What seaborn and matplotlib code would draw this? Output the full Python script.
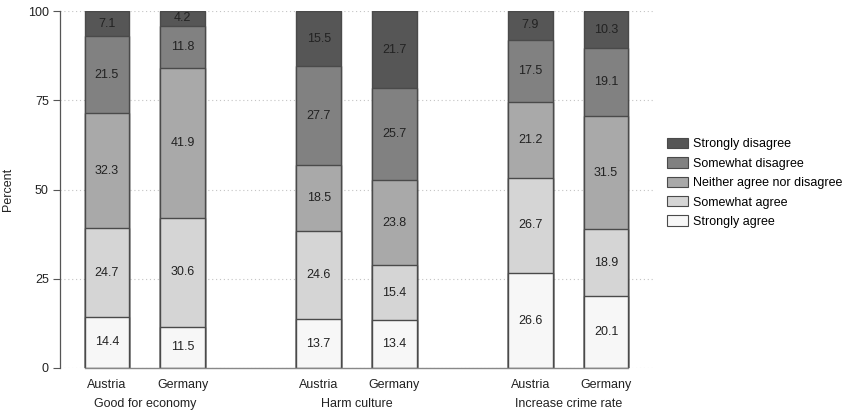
import numpy as np
import pandas as pd
import seaborn as sns
import matplotlib.pyplot as plt
import matplotlib.transforms as mtransforms
from matplotlib.patches import Patch

questions = ['Good for economy', 'Harm culture', 'Increase crime rate']
countries = ['Austria', 'Germany']
levels = ['Strongly agree', 'Somewhat agree', 'Neither agree nor disagree',
          'Somewhat disagree', 'Strongly disagree']

# one list per answer level, ordered: economy AT, DE, culture AT, DE, crime AT, DE
strongly_agree = [14.4, 11.5, 13.7, 13.4, 26.6, 20.1]
somewhat_agree = [24.7, 30.6, 24.6, 15.4, 26.7, 18.9]
neither = [32.3, 41.9, 18.5, 23.8, 21.2, 31.5]
somewhat_disagree = [21.5, 11.8, 27.7, 25.7, 17.5, 19.1]
strongly_disagree = [7.1, 4.2, 15.5, 21.7, 7.9, 10.3]

colors = ['#f7f7f7', '#d5d5d5', '#a9a9a9', '#818181', '#565656']

rows = []
for i, (q, c) in enumerate([(q, c) for q in questions for c in countries]):
    for lev, vals in zip(levels, [strongly_agree, somewhat_agree, neither,
                                  somewhat_disagree, strongly_disagree]):
        rows.append({'question': q, 'country': c, 'level': lev, 'value': vals[i],
                     'pos': questions.index(q) * 2.8 + countries.index(c)})
df = pd.DataFrame(rows)
df['level'] = pd.Categorical(df['level'], levels, ordered=True)
df = df.sort_values(['pos', 'level'])
df['top'] = df.groupby('pos')['value'].cumsum()
df['mid'] = df['top'] - df['value'] / 2

plt.rcParams['font.family'] = ['Liberation Sans', 'DejaVu Sans']
fig = plt.figure(figsize=(8.42, 4.12), dpi=100)
ax = fig.add_axes([60 / 842, 1 - 368 / 412, (653 - 60) / 842, (368 - 11) / 412])

# draw cumulative bars from the top level down so lower segments overlay
for lev, col in reversed(list(zip(levels, colors))):
    sub = df[df['level'] == lev]
    sns.barplot(data=sub, x='pos', y='top', native_scale=True, width=0.59,
                color=col, saturation=1, edgecolor='#4a4a4a', linewidth=1.0,
                errorbar=None, ax=ax, zorder=3)

for _, r in df.iterrows():
    ax.text(r['pos'], r['mid'], f"{r['value']:.1f}", ha='center', va='center',
            fontsize=9, color='#222222', zorder=5)

positions = sorted(df['pos'].unique())
ax.set_xlim(positions[0] - 0.62, positions[-1] + 0.62)
ax.set_ylim(0, 100)
ax.set_yticks([0, 25, 50, 75, 100])
ax.set_xticks(positions)
ax.set_xticklabels(countries * len(questions))
ax.tick_params(axis='x', length=0, pad=8, labelsize=9, colors='#222222')
ax.tick_params(axis='y', length=5, width=0.8, color='#555555', labelsize=9,
               labelcolor='#222222', pad=3)
ax.set_xlabel('')
ax.set_ylabel('Percent', fontsize=9, color='#222222', labelpad=10)
ax.yaxis.grid(True, linestyle=(0, (1, 2.5)), color='#c4c4c4', linewidth=0.8, zorder=0)
ax.set_axisbelow(True)
for s in ['top', 'right', 'bottom']:
    ax.spines[s].set_visible(False)
ax.spines['left'].set_color('#555555')
ax.spines['left'].set_linewidth(0.9)
ax.plot([positions[0] - 0.295, positions[-1] + 0.295], [0, 0], color='#888888',
        lw=1.0, zorder=4, clip_on=False)

trans = mtransforms.blended_transform_factory(ax.transData, ax.transAxes)
for qi, q in enumerate(questions):
    ax.text(qi * 2.8 + 0.5, -0.1, q, transform=trans, ha='center', va='center',
            fontsize=9, color='#222222')

handles = [Patch(facecolor=c, edgecolor='#4a4a4a', linewidth=0.8, label=l)
           for l, c in zip(levels[::-1], colors[::-1])]
fig.legend(handles=handles, loc='center left', bbox_to_anchor=(0.782, 0.556),
           frameon=False, fontsize=9, handlelength=1.7, handleheight=0.9,
           labelspacing=0.55, handletextpad=0.4, borderpad=0.2)

fig.savefig('out.png', dpi=100)
